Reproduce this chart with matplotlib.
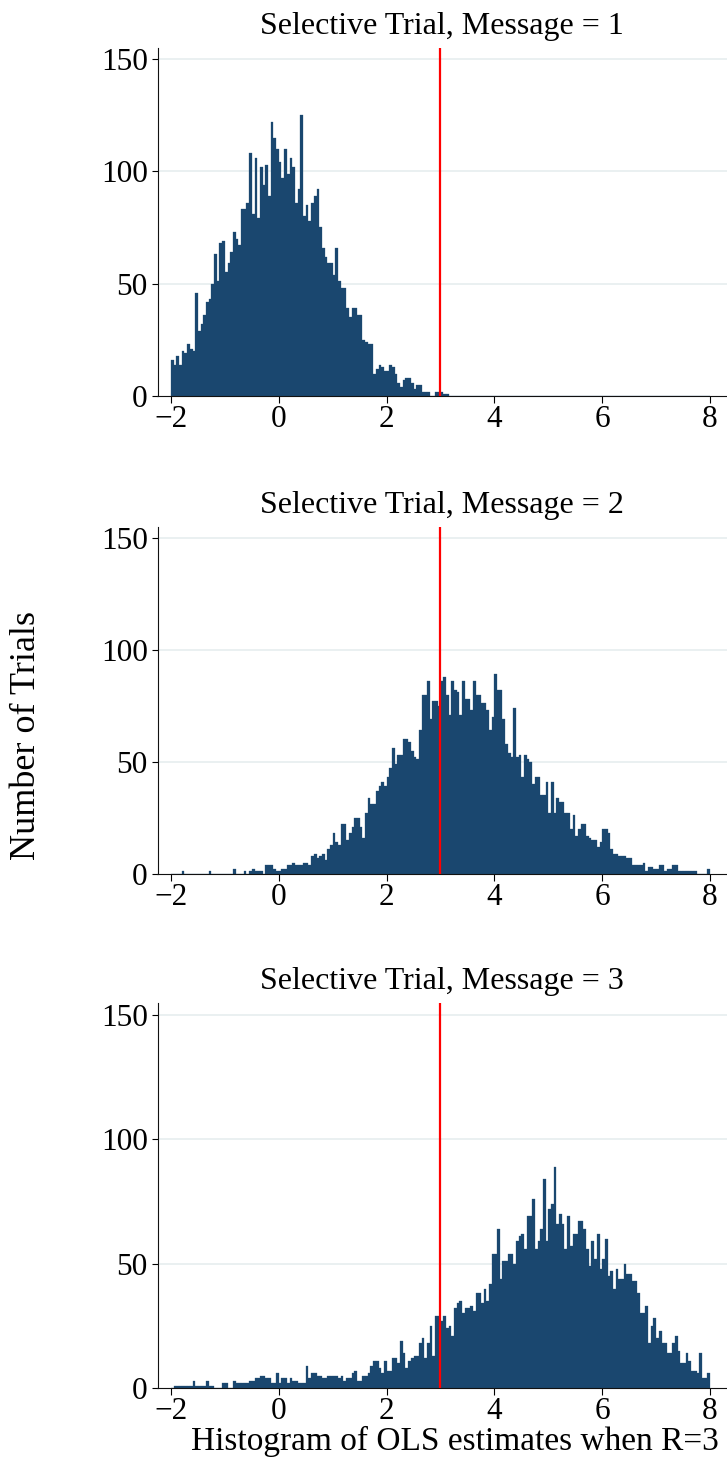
import numpy as np
import matplotlib
matplotlib.use("Agg")
import matplotlib.pyplot as plt

# ---- data -------------------------------------------------------------
bin_start = -2.0
bin_width = 0.05
true_R = 3

titles = ["Selective Trial, Message = 1",
          "Selective Trial, Message = 2",
          "Selective Trial, Message = 3"]
x_label = "Histogram of OLS estimates when R=3"
y_label = "Number of Trials"
x_ticks = [-2, 0, 2, 4, 6, 8]
y_ticks = [0, 50, 100, 150]

counts_msg1 = [
    16, 14, 18, 14, 20, 19, 23, 21, 20, 46,
    29, 32, 36, 42, 43, 50, 63, 51, 68, 69,
    55, 59, 64, 73, 70, 67, 83, 83, 86, 108,
    81, 106, 79, 102, 94, 103, 89, 122, 115, 110,
    104, 97, 110, 99, 106, 102, 86, 92, 125, 80,
    85, 78, 86, 89, 92, 75, 66, 62, 59, 59,
    54, 66, 51, 48, 48, 39, 35, 39, 39, 36,
    36, 25, 24, 23, 23, 10, 12, 14, 13, 11,
    11, 14, 13, 10, 6, 4, 7, 8, 8, 6,
    3, 5, 5, 2, 2, 2, 0, 0, 2, 2,
    2, 1, 1, 0, 0, 0, 0, 0, 0, 0,
    0, 0, 0, 0, 0, 0, 0, 0, 0, 0,
    0, 0, 0, 0, 0, 0, 0, 0, 0, 0,
    0, 0, 0, 0, 0, 0, 0, 0, 0, 0,
    0, 0, 0, 0, 0, 0, 0, 0, 0, 0,
    0, 0, 0, 0, 0, 0, 0, 0, 0, 0,
    0, 0, 0, 0, 0, 0, 0, 0, 0, 0,
    0, 0, 0, 0, 0, 0, 0, 0, 0, 0,
    0, 0, 0, 0, 0, 0, 0, 0, 0, 0,
    0, 0, 0, 0, 0, 0, 0, 0, 0, 0,
]

counts_msg2 = [
    0, 0, 0, 0, 1, 0, 0, 0, 0, 0,
    0, 0, 0, 0, 1, 0, 0, 0, 0, 0,
    0, 0, 0, 2, 0, 0, 0, 1, 0, 1,
    2, 1, 1, 1, 0, 4, 4, 4, 2, 1,
    1, 2, 2, 4, 4, 5, 4, 4, 4, 5,
    5, 4, 8, 9, 7, 8, 9, 6, 11, 13,
    18, 14, 13, 22, 22, 15, 18, 21, 25, 25,
    21, 16, 27, 34, 31, 31, 37, 39, 41, 39,
    43, 47, 56, 49, 53, 53, 60, 60, 59, 55,
    52, 51, 64, 80, 80, 86, 69, 77, 77, 75,
    86, 88, 80, 71, 86, 82, 81, 71, 86, 78,
    78, 73, 86, 80, 80, 76, 76, 73, 64, 70,
    89, 82, 82, 69, 58, 54, 52, 74, 52, 53,
    43, 53, 51, 50, 40, 43, 43, 35, 35, 41,
    27, 41, 27, 34, 32, 32, 27, 27, 20, 26,
    17, 20, 22, 22, 17, 16, 15, 15, 12, 14,
    20, 20, 18, 11, 9, 9, 8, 8, 8, 7,
    7, 4, 4, 4, 4, 5, 1, 3, 3, 2,
    2, 4, 4, 1, 2, 2, 4, 4, 1, 1,
    1, 1, 1, 1, 1, 0, 0, 0, 0, 2,
]

counts_msg3 = [
    0, 1, 1, 1, 1, 1, 1, 1, 3, 1,
    1, 1, 1, 3, 1, 1, 0, 0, 0, 2,
    2, 0, 0, 3, 2, 2, 2, 2, 2, 3,
    3, 4, 4, 5, 5, 4, 4, 2, 2, 6,
    2, 4, 4, 2, 4, 3, 3, 2, 2, 2,
    9, 4, 6, 6, 5, 5, 4, 4, 5, 5,
    5, 5, 4, 5, 3, 4, 4, 6, 7, 3,
    3, 5, 5, 6, 9, 11, 11, 8, 6, 11,
    7, 7, 12, 12, 10, 19, 14, 8, 11, 12,
    13, 13, 18, 20, 12, 18, 25, 13, 29, 29,
    27, 29, 24, 25, 21, 32, 34, 35, 30, 32,
    32, 33, 31, 38, 38, 34, 40, 35, 42, 54,
    54, 64, 44, 51, 51, 54, 54, 50, 59, 61,
    62, 56, 69, 69, 76, 56, 59, 64, 84, 59,
    72, 74, 89, 66, 70, 66, 56, 69, 57, 62,
    62, 67, 67, 64, 56, 49, 59, 52, 62, 48,
    52, 60, 45, 47, 40, 48, 44, 44, 50, 46,
    46, 43, 43, 38, 30, 30, 33, 18, 25, 28,
    20, 23, 18, 18, 14, 14, 18, 21, 15, 10,
    10, 14, 11, 7, 7, 6, 14, 4, 4, 6,
]

all_counts = [counts_msg1, counts_msg2, counts_msg3]

# ---- style ------------------------------------------------------------
plt.rcParams['font.family'] = ['Liberation Serif', 'DejaVu Serif']
plt.rcParams['axes.unicode_minus'] = True

bar_color = '#1a476f'
grid_color = '#e4ecee'
W, H = 727, 1464
fig = plt.figure(figsize=(W / 100, H / 100), dpi=100)

# axes rectangles in pixels: (top, bottom)
left_px = 157.5
panels_px = [(47.7, 396.0), (526.5, 873.7), (1002.5, 1388.0)]
xlim = (-2.25, 8.315)
ylim = (0, 155)

for i, (top, bot) in enumerate(panels_px):
    ax = fig.add_axes([left_px / W, 1 - bot / H, (W - left_px) / W, (bot - top) / H])
    counts = np.array(all_counts[i])
    edges = bin_start + bin_width * np.arange(len(counts) + 1)
    ax.bar(edges[:-1], counts, width=bin_width, align='edge',
           color=bar_color, edgecolor=bar_color, linewidth=0.2, zorder=2)
    ax.axvline(true_R, color='red', lw=1.6, zorder=3)
    ax.set_xlim(*xlim)
    ax.set_ylim(*ylim)
    ax.set_xticks(x_ticks)
    ax.set_yticks(y_ticks)
    for yv in y_ticks[1:]:
        ax.axhline(yv, color=grid_color, lw=1.1, zorder=1)
    for s in ['top', 'right']:
        ax.spines[s].set_visible(False)
    for s in ['left', 'bottom']:
        ax.spines[s].set_linewidth(0.8)
        ax.spines[s].set_color('#111111')
    ax.tick_params(axis='y', direction='out', length=4.5, width=0.8,
                   pad=2.5, labelsize=22.5)
    ax.tick_params(axis='x', direction='out', length=5, width=0.8,
                   pad=1.5, labelsize=22.5)
    ax.set_title(titles[i], fontsize=23, pad=10)

fig.text(455 / W, 1 - 1450 / H, x_label, ha='center', va='baseline', fontsize=24)
fig.text(27 / W, 1 - 736 / H, y_label, ha='center', va='center',
         rotation=90, fontsize=26)

fig.savefig('out.png', dpi=100)
